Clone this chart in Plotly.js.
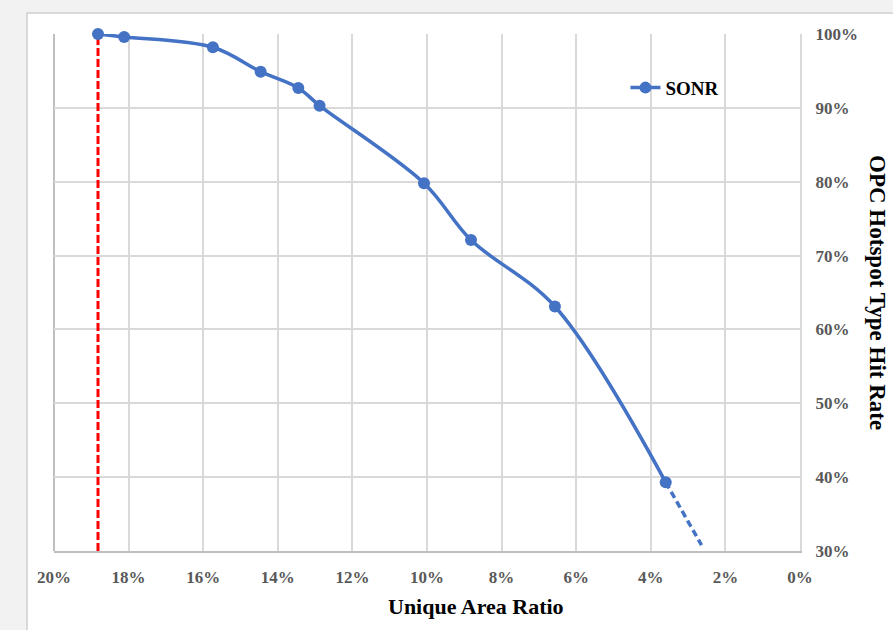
<!DOCTYPE html>
<html>
<head>
<meta charset="utf-8">
<script src="https://cdn.plot.ly/plotly-3.0.1.min.js"></script>
<style>
html,body{margin:0;padding:0;width:893px;height:630px;overflow:hidden;background:#f2f2f2;}
#box{position:absolute;left:26px;top:12px;width:900px;height:700px;background:#fff;border:2px solid #d9d9d9;}
#chart{position:absolute;left:0;top:0;width:893px;height:630px;}
</style>
</head>
<body>
<div id="box"></div>
<div id="chart"></div>
<script>
// Unique area ratio (%) vs OPC hotspot type hit rate (%)
const uniqueAreaRatio = [18.82, 18.12, 15.74, 14.46, 13.45, 12.88, 10.08, 8.82, 6.57, 3.60];
const hitRate        = [100.0, 99.6, 98.2, 94.9, 92.7, 90.3, 79.8, 72.1, 63.1, 39.3];
// dashed extrapolation
const extRatio = [3.60, 2.64];
const extHit   = [39.3, 30.8];
// red threshold line
const thresholdRatio = [18.82, 18.82];
const thresholdHit   = [30, 100];
const xTicks = [20, 18, 16, 14, 12, 10, 8, 6, 4, 2, 0];
const yTicks = [30, 40, 50, 60, 70, 80, 90, 100];

const blue = '#4472C4';
const serif = 'Liberation Serif, Times New Roman, serif';

const traces = [
  {x: thresholdRatio, y: thresholdHit, mode: 'lines', showlegend: false, hoverinfo: 'skip',
   line: {color: '#FF0000', width: 3, dash: '8px,3px'}},
  {x: extRatio, y: extHit, mode: 'lines', showlegend: false,
   line: {color: blue, width: 3.5, dash: '7px,4px'}},
  {x: uniqueAreaRatio, y: hitRate, mode: 'lines+markers', name: 'SONR', cliponaxis: false,
   line: {color: blue, width: 3.5, shape: 'spline', smoothing: 1},
   marker: {color: blue, size: 12}}
];

const layout = {
  width: 893, height: 630,
  margin: {l: 54, r: 92.5, t: 34, b: 78.5},
  paper_bgcolor: 'rgba(0,0,0,0)',
  plot_bgcolor: '#ffffff',
  showlegend: true,
  legend: {x: 0.766, y: 0.896, xanchor: 'left', yanchor: 'middle', bgcolor: 'rgba(0,0,0,0)',
           font: {family: serif, size: 19, color: '#000', weight: 'bold'}},
  xaxis: {range: [20, 0], tickvals: xTicks, ticktext: xTicks.map(v => v + '%'),
          showgrid: true, gridcolor: '#d9d9d9', gridwidth: 2, zeroline: false,
          showline: true, linecolor: '#bfbfbf', linewidth: 2,
          ticks: '', ticklabelstandoff: 10,
          tickfont: {family: serif, size: 17, color: '#595959', weight: 'bold'}},
  yaxis: {range: [30, 100], side: 'right', tickvals: yTicks, ticktext: yTicks.map(v => v + '%'),
          showgrid: true, gridcolor: '#d9d9d9', gridwidth: 2, zeroline: false,
          showline: true, linecolor: '#d9d9d9', linewidth: 2,
          ticks: '', ticklabelstandoff: 10,
          tickfont: {family: serif, size: 17, color: '#595959', weight: 'bold'}},
  shapes: [
    {type: 'line', xref: 'paper', yref: 'paper', x0: 0, x1: 0, y0: 0, y1: 1,
     line: {color: '#bfbfbf', width: 2}, layer: 'below'}
  ],
  annotations: [
    {text: 'Unique Area Ratio', xref: 'paper', yref: 'paper', x: 0.566, y: -0.107,
     showarrow: false, xanchor: 'center', yanchor: 'middle',
     font: {family: serif, size: 22, color: '#000', weight: 'bold'}},
    {text: 'OPC Hotspot Type Hit Rate', xref: 'paper', yref: 'paper', x: 1.1038, y: 0.5,
     showarrow: false, xanchor: 'center', yanchor: 'middle', textangle: 90,
     font: {family: serif, size: 23, color: '#000', weight: 'bold'}}
  ]
};

Plotly.newPlot('chart', traces, layout, {displayModeBar: false, staticPlot: true});
</script>
</body>
</html>
